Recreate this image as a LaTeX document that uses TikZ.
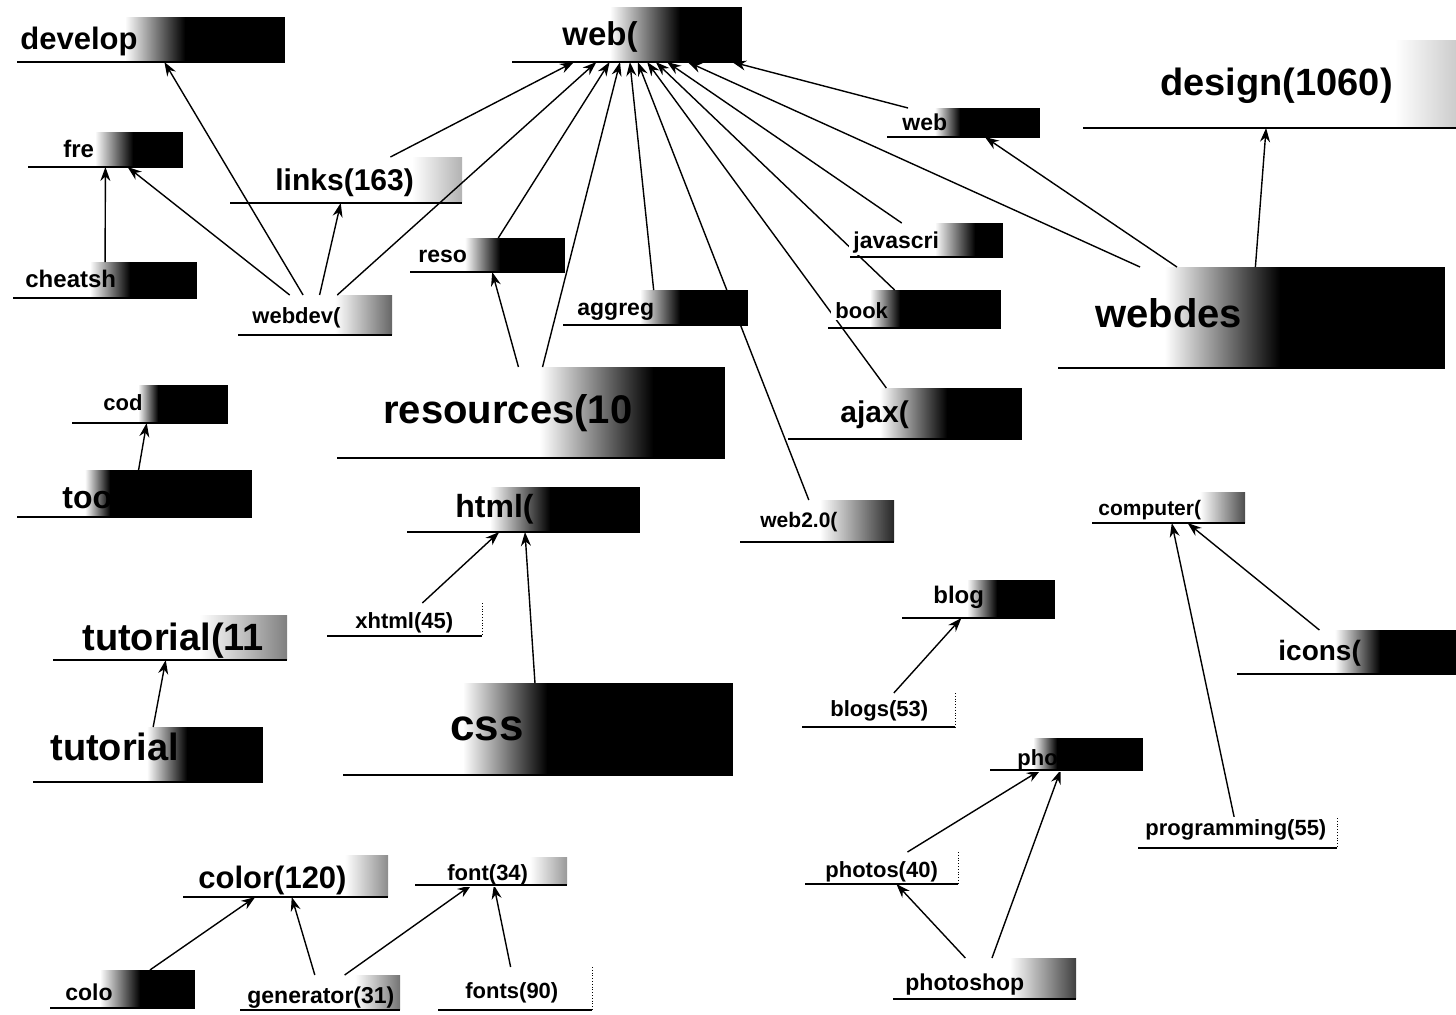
\documentclass[tikz,border=0pt]{standalone}
\usepackage{fontspec}
\setmainfont{Liberation Sans}
\usepackage{tikz}
\usetikzlibrary{positioning, arrows.meta, fit, backgrounds, fadings}

\begin{document}
\begin{tikzpicture}[x=0.5pt, y=-0.5pt,
  tagbox/.style={inner sep=0pt, outer sep=0pt},
  taglabel/.style={anchor=base west, inner xsep=2pt, inner ysep=1pt, xshift=-2pt, fill=white},
  link/.style={-{Stealth[length=7pt, width=5pt]}, line width=0.7pt}]
\useasboundingbox (0,0) rectangle (1456,1014);
% Shaded tags
\foreach \n/\xa/\ya/\xb/\yb/\ga/\gb/\gk/\tx/\by/\fs/\lbl in {
develop/17/17/285/62/125/185/1/20/49/15.5/develop,
web/512/7/742/62/610/680/1/562/45/16.5/web(,
fre/28/132/183/167/95/133/1/63/157/12/fre,
links/230/157/462/203/412/462/0.3/275/190/15/links(163),
cheatsh/13/262/197/298/90/130/1/25/287/12/cheatsh,
webdev/238/295/392/335/335/392/0.6/252/323/11/webdev(,
reso/410/238/565/272/465/500/1/418/262/11.5/reso,
aggreg/563/290/748/325/640/680/1/577/315/11.5/aggreg,
javascri/850/223/1003/257/935/975/1/853/248/11.5/javascri,
book/828/290/1001/328/870/900/1/835/318/11/book,
websm/887/108/1040/137/935/960/1/902/130/11.5/web,
design/1083/40/1456/128/1395/1456/0.2/1160/95/19/design(1060),
webdes/1058/267/1445/368/1165/1280/1/1095/327/20/webdes,
resources/337/367/725/458/540/653/1/383/423/20/resources(10,
ajax/788/388/1022/439/880/947/1/840/422/15/ajax(,
cod/72/385/228/423/138/158/1/103/410/11/cod,
too/17/470/252/517/85/110/1/62/508/16/too,
html/407/487/640/532/490/550/1/455/517/16/html(,
css/343/683/733/775/463/547/1/450/740/22/css,
webtwo/740/500/894/542/820/894/0.85/760/527/10.5/web2.0(,
computer/1092/492/1245/523/1200/1245/0.7/1098/515/10.5/computer(,
blog/902/580/1055/618/967/997/1/933/603/12/blog,
icons/1237/630/1456/674/1335/1380/1/1278/660/14/icons(,
pho/990/738/1143/770/1033/1057/1/1017/765/11/pho,
photoshop/893/958/1076/999/1010/1076/0.75/905/990/11.5/photoshop,
tutorial/53/615/287/660/200/287/0.5/82/650/19/tutorial(11,
tutorials/33/727/263/782/147/187/1/50/760/19/tutorial,
color/183/855/388/897/345/388/0.45/198/888/15.5/color(120),
font/415/857/567/885/530/567/0.4/447/880/11/font(34),
colo/50/970/195/1008/100/140/1/65/1000/11.5/colo,
generator/240/975/400/1010/355/400/0.55/247/1003/11.5/generator(31)}{
\node[tagbox, fit={(\xa,\ya) (\xb,\yb)}] (\n) {};
\node[taglabel, font=\bfseries\fontsize{\fs}{\fs}\selectfont] (\n-txt) at (\tx,\by) {\lbl};
\fill[black, fill opacity=\gk, path fading=west] (\ga,\ya) rectangle (\gb,\yb);
\fill[black, fill opacity=\gk] (\gb,\ya) rectangle (\xb,\yb);
\draw[line width=0.7pt] (\n.south west) -- (\n.south east);
}
% Plain tags
\foreach \n/\xa/\ya/\xb/\yb/\tx/\by/\lbl in {
xhtml/327/603/482/636/355/628/xhtml(45),
blogs/802/693/955/727/830/716/blogs(53),
programming/1138/818/1337/848/1145/835/programming(55),
photos/805/852/958/884/825/877/photos(40),
fonts/438/967/592/1010/465/998/fonts(90)}{
\node[tagbox, fit={(\xa,\ya) (\xb,\yb)}] (\n) {};
\node[taglabel, font=\bfseries\fontsize{11}{11}\selectfont] (\n-txt) at (\tx,\by) {\lbl};
\draw[line width=0.7pt] (\n.south west) -- (\n.south east);
\draw[densely dotted] (\n.north east) -- (\n.south east);
}
% Links
\begin{scope}[on background layer]
\foreach \a/\b in {links/web, webdev/web, webdev/develop, webdev/fre, webdev/links,
  cheatsh/fre, reso/web, resources/reso, resources/web, aggreg/web, webtwo/web,
  ajax/web, book/web, javascri/web, webdes/web, websm/web, webdes/websm,
  webdes/design, too/cod, xhtml/html, css/html, tutorials/tutorial, blogs/blog,
  icons/computer, programming/computer, photos/pho, photoshop/pho,
  photoshop/photos, colo/color, generator/color, generator/font, fonts/font}
  \draw[link] (\a) -- (\b);
\end{scope}
\end{tikzpicture}
\end{document}
